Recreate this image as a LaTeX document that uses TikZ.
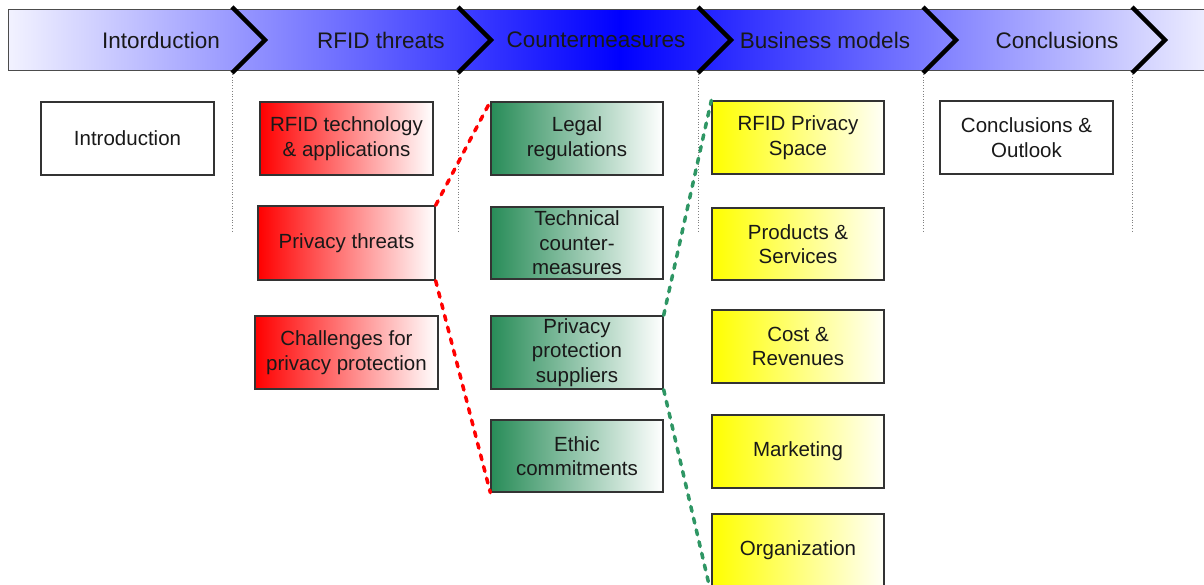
\documentclass[tikz,border=0pt]{standalone}
\usepackage{fontspec}
\setmainfont{Liberation Sans}
\definecolor{sgreen}{RGB}{40,140,88}
\definecolor{dgreen}{RGB}{46,150,100}
\begin{document}
\begin{tikzpicture}[x=1pt,y=-1pt,
  box/.style={draw=black!80,line width=1.3pt,minimum height=73pt,inner sep=0pt,align=center,
    font=\fontsize{20.5}{24.5}\selectfont,text=black!90},
  redbox/.style={box,shading=axis,left color=red,right color=white},
  greenbox/.style={box,shading=axis,left color=sgreen,right color=white},
  yellowbox/.style={box,shading=axis,left color=yellow,right color=yellow!3},
  whitebox/.style={box,fill=white},
  head/.style={font=\fontsize{22.5}{26}\selectfont,text=black!90,inner sep=0pt},
  chev/.style={line width=4.5pt,black},
  guide/.style={gray,dotted,line width=0.8pt},
  reddash/.style={red,line width=3.5pt,line cap=round,dash pattern=on 5pt off 7pt},
  greendash/.style={dgreen,line width=3.5pt,line cap=round,dash pattern=on 5pt off 7pt}]
\useasboundingbox (0,0) rectangle (1204,585);
\begin{scope}
\clip (0,0) rectangle (1204,585);
% banner
\shade[left color=blue!5,right color=blue!3,middle color=blue] (8,10) rectangle (1232,71);
\draw[black!70,line width=1pt] (1232,10) -- (8,10) -- (8,71) -- (1232,71);
% guides
\foreach \gx in {232,458,698,923,1132} \draw[guide] (\gx,74) -- (\gx,233);
% chevrons
\foreach \gx in {232,458,698,923,1132} \draw[chev] (\gx,7) -- (\gx+33,40) -- (\gx,73);
\node[head] (h1) at (161,40) {Intorduction};
\node[head] (h2) at (381,40) {RFID threats};
\node[head] (h3) at (596,40) {Countermeasures};
\node[head] (h4) at (825,40) {Business models};
\node[head] (h5) at (1057,40) {Conclusions};
% boxes
\node[whitebox,minimum width=173pt] (intro) at (127.5,138.5) {Introduction};
\node[redbox,minimum width=173pt] (rfid) at (346.5,138.5) {RFID technology\\\& applications};
\node[redbox,minimum width=177pt,minimum height=74pt] (threats) at (346.5,243) {Privacy threats};
\node[redbox,minimum width=183pt] (chall) at (346.5,352.5) {Challenges for\\privacy protection};
\node[greenbox,minimum width=172pt] (legal) at (577,138.5) {Legal\\regulations};
\node[greenbox,minimum width=172pt,minimum height=72pt] (tech) at (577,243) {Technical\\counter-\\measures};
\node[greenbox,minimum width=172pt] (pps) at (577,352.5) {Privacy\\protection\\suppliers};
\node[greenbox,minimum width=172pt,minimum height=72pt] (ethic) at (577,456) {Ethic\\commitments};
\node[yellowbox,minimum width=172pt] (space) at (798,137.5) {RFID Privacy\\Space};
\node[yellowbox,minimum width=172pt,minimum height=72pt] (prod) at (798,244) {Products \&\\Services};
\node[yellowbox,minimum width=172pt] (cost) at (798,346.5) {Cost \&\\Revenues};
\node[yellowbox,minimum width=172pt] (mark) at (798,451.5) {Marketing};
\node[yellowbox,minimum width=172pt] (org) at (798,550.5) {Organization};
\node[whitebox,minimum width=173pt] (concl) at (1026.5,137.5) {Conclusions \&\\Outlook};
% connectors
\draw[reddash] (threats.north east) -- (legal.north west);
\draw[reddash] (threats.south east) -- (ethic.south west);
\draw[greendash] (pps.north east) -- (space.north west);
\draw[greendash] (pps.south east) -- ([yshift=-7pt]org.south west);
\end{scope}
\end{tikzpicture}
\end{document}
